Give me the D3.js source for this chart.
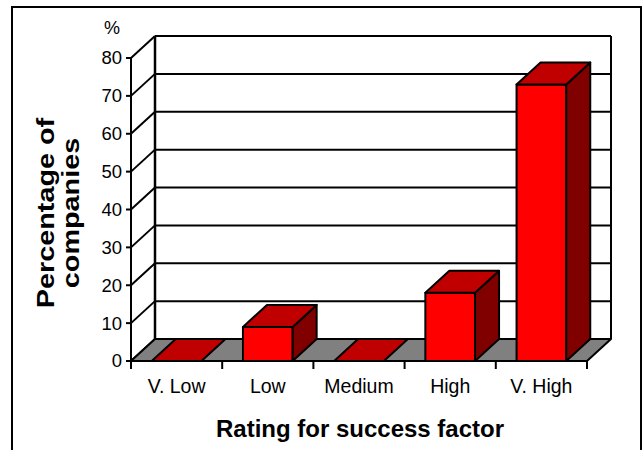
<!DOCTYPE html>
<html>
<head>
<meta charset="utf-8">
<script src="https://cdn.jsdelivr.net/npm/d3@7"></script>
<style>
  html, body { margin: 0; padding: 0; background: #fff; }
  svg { display: block; font-family: "Liberation Sans", Arial, sans-serif; }
</style>
</head>
<body>
<svg id="chart" width="644" height="450"></svg>
<script>
// Share of companies by rating given to the success factor
const categories = ["V. Low", "Low", "Medium", "High", "V. High"];
const values = [0, 9, 0, 18, 73];
const yTicks = [0, 10, 20, 30, 40, 50, 60, 70, 80];

const svg = d3.select("#chart");

// 3-D depth offset of the back wall relative to the front plane
const DX = 24, DY = -22;

const y = d3.scaleLinear().domain([0, 80]).range([361, 58]);
const x = d3.scaleBand().domain(categories).range([131, 587])
  .paddingInner(0.455).paddingOuter(0.2275);

const x0 = x.range()[0], x1 = x.range()[1];
const y0 = y(0), yTop = y(80);

// outer frame
svg.append("path")
  .attr("d", `M12,452 V7 H641 V452`)
  .attr("fill", "none").attr("stroke", "#000").attr("stroke-width", 2);

const walls = svg.append("g");

// back wall gridlines
walls.selectAll("line.grid").data(yTicks.filter(t => t > 0)).join("line")
  .attr("x1", x0 + DX).attr("x2", x1 + DX)
  .attr("y1", d => y(d) + DY).attr("y2", d => y(d) + DY)
  .attr("stroke", "#000").attr("stroke-width", 2);

// side wall gridlines
walls.selectAll("line.side").data(yTicks).join("line")
  .attr("x1", x0).attr("y1", d => y(d))
  .attr("x2", x0 + DX).attr("y2", d => y(d) + DY)
  .attr("stroke", "#000").attr("stroke-width", 2);

// back wall edges
walls.append("line")
  .attr("x1", x0 + DX).attr("x2", x0 + DX)
  .attr("y1", yTop + DY).attr("y2", y0 + DY)
  .attr("stroke", "#000").attr("stroke-width", 2.5);
walls.append("line")
  .attr("x1", x1 + DX).attr("x2", x1 + DX)
  .attr("y1", yTop + DY).attr("y2", y0 + DY)
  .attr("stroke", "#000").attr("stroke-width", 2);

// floor
svg.append("polygon")
  .attr("points", [[x0, y0], [x1, y0], [x1 + DX, y0 + DY], [x0 + DX, y0 + DY]].join(" "))
  .attr("fill", "#808080").attr("stroke", "#000").attr("stroke-width", 2)
  .attr("stroke-linejoin", "round");

// bars
const bars = svg.append("g").attr("stroke", "#000").attr("stroke-width", 2)
  .attr("stroke-linejoin", "round");
categories.forEach((c, i) => {
  const v = values[i];
  const bx0 = x(c), bx1 = x(c) + x.bandwidth();
  const by = y(v);
  const g = bars.append("g");
  if (v > 0) {
    g.append("rect")
      .attr("x", bx0).attr("y", by).attr("width", bx1 - bx0).attr("height", y0 - by)
      .attr("fill", "#FF0000");
    g.append("polygon")
      .attr("points", [[bx1, by], [bx1 + DX, by + DY], [bx1 + DX, y0 + DY], [bx1, y0]].join(" "))
      .attr("fill", "#800000");
  }
  g.append("polygon")
    .attr("points", [[bx0, by], [bx1, by], [bx1 + DX, by + DY], [bx0 + DX, by + DY]].join(" "))
    .attr("fill", "#C00000");
});

// y axis
const axisG = svg.append("g").attr("stroke", "#000").attr("stroke-width", 2);
axisG.append("line").attr("x1", x0).attr("x2", x0).attr("y1", yTop).attr("y2", y0 + 8);
axisG.selectAll("line.ytick").data(yTicks).join("line")
  .attr("x1", x0 - 5).attr("x2", x0).attr("y1", d => y(d)).attr("y2", d => y(d));
axisG.append("line").attr("x1", x0).attr("x2", x1).attr("y1", y0).attr("y2", y0);
const bounds = categories.map(c => x(c) - x.step() * x.paddingInner() / 2).concat([x1]);
axisG.selectAll("line.xtick").data(bounds).join("line")
  .attr("x1", d => d).attr("x2", d => d).attr("y1", y0).attr("y2", y0 + 8);

svg.append("g").selectAll("text").data(yTicks).join("text")
  .attr("x", x0 - 9).attr("y", d => y(d)).attr("dy", "0.35em")
  .attr("text-anchor", "end").attr("font-size", 18.5)
  .text(d => d);

svg.append("text").attr("x", 112).attr("y", 34)
  .attr("text-anchor", "middle").attr("font-size", 18).text("%");

svg.append("g").selectAll("text").data(categories).join("text")
  .attr("x", d => x(d) + x.bandwidth() / 2).attr("y", 393)
  .attr("text-anchor", "middle").attr("font-size", 19.5)
  .text(d => d);

svg.append("text").attr("x", 360).attr("y", 437)
  .attr("text-anchor", "middle").attr("font-size", 24).attr("font-weight", "bold")
  .text("Rating for success factor");

const yTitle = svg.append("text")
  .attr("transform", "translate(0,213) rotate(-90) scale(1.2,1)")
  .attr("text-anchor", "middle").attr("font-size", 24).attr("font-weight", "bold");
yTitle.append("tspan").attr("x", 0).attr("y", 54).text("Percentage of");
yTitle.append("tspan").attr("x", 0).attr("y", 79).text("companies");
</script>
</body>
</html>
